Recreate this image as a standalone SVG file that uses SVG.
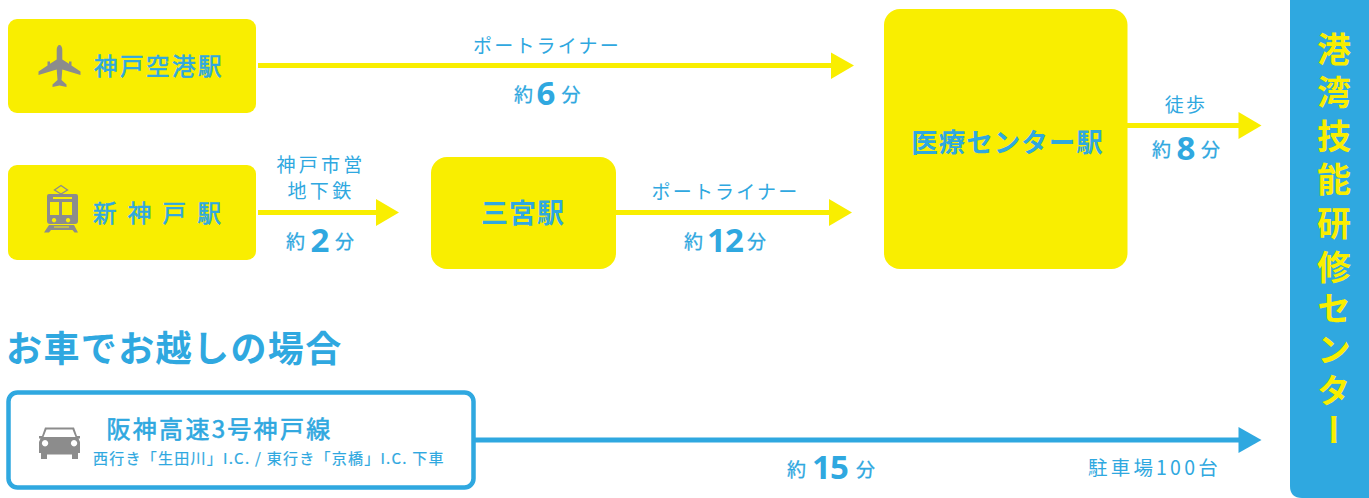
<svg xmlns="http://www.w3.org/2000/svg" width="1369" height="498" viewBox="0 0 1369 498">
<style>
text{font-family:"Noto Sans CJK JP","Noto Sans",sans-serif;fill:#2fa8e0;font-weight:700}
.m{text-anchor:middle}
.st{fill:#f9ee00}
.ic{fill:#8c8c8c}
.y{stroke:#f9ee00;stroke-width:5;fill:none}
.b{stroke:#2fa8e0;stroke-width:5;fill:none}
.ya{fill:#f9ee00}
.ba{fill:#2fa8e0}
.n{font-size:23.500px;letter-spacing:2.500px;font-weight:400;stroke:#2fa8e0;stroke-width:.6px}
.l{font-size:19px;letter-spacing:2.200px;font-weight:400}
.t{font-size:19px;font-weight:400;stroke:#2fa8e0;stroke-width:.3px}
.d{font-size:33px;font-weight:700;font-family:"Noto Sans","Noto Sans CJK JP",sans-serif}
.v{font-size:34px;fill:#f9ee00;writing-mode:vertical-rl}
</style>
<g id="connectors">
<path class="y" d="M258 65.500H832"/><path class="ya" d="M831 52.500L854 65.500L831 79Z"/>
<path class="y" d="M258 212.500H377"/><path class="ya" d="M376 199L399 212.500L376 226Z"/>
<path class="y" d="M616 212.500H830"/><path class="ya" d="M829 199L852 212.500L829 226Z"/>
<path class="y" d="M1127 125.500H1240"/><path class="ya" d="M1238.500 112L1261.500 125.500L1238.500 139Z"/>
<path class="b" d="M475 440H1240"/><path class="ba" d="M1238.500 427L1261.500 440L1238.500 453Z"/>
</g>
<g id="node-kobe-airport">
<rect class="st" x="8" y="19" width="248" height="94" rx="9"/>
<path class="ic" d="M59.500 45C61 45 62.300 47 62.300 50V59.500L69 63.800V61.500H71.500V65.500L80.500 71.500V75L62.300 69.500L61.500 80L66.500 84.500V87L59.500 85.500L52.500 87V84.500L57.500 80L56.700 69.500L38.500 75V71.500L47.500 65.500V61.500H50V63.800L56.700 59.500V50C56.700 47 58 45 59.500 45Z"/>
<text class="n" x="94" y="74.500">神戸空港駅</text>
</g>
<g id="node-shin-kobe">
<rect class="st" x="8" y="165" width="248" height="95" rx="9"/>
<path class="ic" fill-rule="evenodd" d="M49 194H76Q78 194 78 196V221Q78 224 75 224H50Q47 224 47 221V196Q47 194 49 194ZM50 202V215H59V202ZM62 202V215H72V202ZM54 218a2.200 2.200 0 1 0 .1 0ZM68 218a2.200 2.200 0 1 0 .1 0ZM53 197V199H72V197Z"/>
<path d="M61 185.500L67.500 190L61 194L54.500 190Z" fill="none" stroke="#8c8c8c" stroke-width="1.300"/>
<path class="ic" d="M49 225H74L78 232.500H74.500L72.500 230H51L49 232.500H44Z"/>
<rect class="st" x="54" y="226.500" width="15" height="1"/>
<text class="n" x="93" y="221.500" style="letter-spacing:11.300px">新神戸駅</text>
</g>
<g id="node-sannomiya">
<rect class="st" x="431" y="157" width="185" height="112" rx="16"/>
<text class="m" x="523" y="223" font-size="27" letter-spacing="1">三宮駅</text>
</g>
<g id="node-iryo-center">
<rect class="st" x="884" y="9" width="243.500" height="260" rx="16"/>
<text class="m" x="1007.500" y="152" font-size="26.500" letter-spacing="1">医療センター駅</text>
</g>
<g id="node-hanshin">
<rect x="8.500" y="392.500" width="465" height="95" rx="9" fill="#fff" stroke="#2fa8e0" stroke-width="4.500"/>
<path class="ic" fill-rule="evenodd" d="M45 427.500H74L77 436H80V438.500H78.500L80 442V453H78V459H72V454.500H47V459H41V453H39V442L40.500 438.500H39V436H42ZM46.500 429.500L43.500 437H75.500L72.500 429.500ZM45 440a3.200 3.200 0 1 0 .1 0ZM74 440a3.200 3.200 0 1 0 .1 0Z"/>
<text x="106.500" y="438" font-size="24" letter-spacing="2.300" style="font-weight:400;stroke:#2fa8e0;stroke-width:.6px">阪神高速3号神戸線</text>
<text x="93" y="464" font-size="15" letter-spacing="1.250" style="font-weight:400;stroke:#2fa8e0;stroke-width:.2px">西行き「生田川」I.C. / 東行き「京橋」I.C. 下車</text>
</g>
<g id="node-center">
<path class="ba" d="M1290 0H1369V498H1302Q1290 498 1290 486Z"/>
<text class="v" x="1334" y="32"><tspan letter-spacing="9.500">港湾技能研</tspan><tspan letter-spacing="7">修センタ</tspan>ー</text>
</g>
<g id="labels">
<text class="l m" x="547" y="53">ポートライナー</text>
<text class="l m" x="321" y="172" style="letter-spacing:3.300px">神戸市営</text>
<text class="l m" x="321" y="198" style="letter-spacing:3.300px">地下鉄</text>
<text class="l m" x="725.500" y="199">ポートライナー</text>
<text class="l m" x="1186" y="112">徒歩</text>
<text class="t" x="514" y="102">約</text><text class="d m" x="546" y="105">6</text><text class="t" x="561.500" y="102">分</text>
<text class="t" x="286" y="249">約</text><text class="d m" x="320" y="252">2</text><text class="t" x="335" y="249">分</text>
<text class="t" x="684" y="249">約</text><text class="d m" x="725" y="252" style="letter-spacing:-1px">12</text><text class="t" x="747" y="249">分</text>
<text class="t" x="1152" y="157">約</text><text class="d m" x="1186" y="160">8</text><text class="t" x="1201" y="157">分</text>
<text class="t" x="787" y="477">約</text><text class="d m" x="830" y="479" style="letter-spacing:-1px">15</text><text class="t" x="856" y="477">分</text>
<text x="1088" y="475" font-size="19.500" letter-spacing="3.200" style="font-weight:400">駐車場100台</text>
<text x="6" y="362" font-size="36" letter-spacing="1.400">お車でお越しの場合</text>
</g>
</svg>
